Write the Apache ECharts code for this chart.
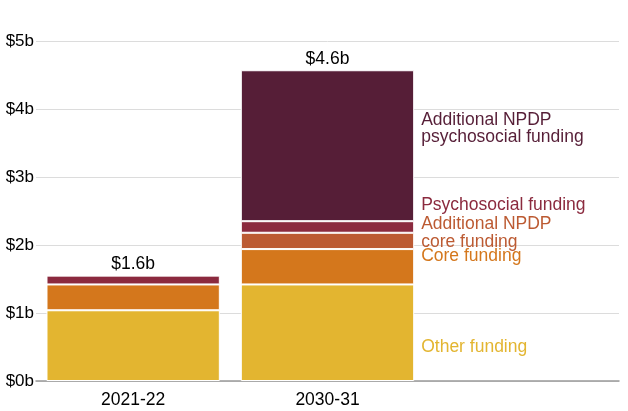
<!DOCTYPE html>
<html>
<head>
<meta charset="utf-8">
<script src="https://cdn.jsdelivr.net/npm/echarts@6/dist/echarts.min.js"></script>
<style>
	html, body { margin: 0; padding: 0; background: #fff; }
	#chart { width: 628px; height: 411px; }
</style>
</head>
<body>
<div id="chart"></div>
<script>
// data ($ billions)
var categories = ['2021-22', '2030-31', ''];
var otherFunding = [1.04, 1.42, null];
var coreFunding = [0.38, 0.52, null];
var addlCoreFunding = [0, 0.24, null];
var psychosocialFunding = [0.13, 0.17, null];
var addlPsychFunding = [0, 2.22, null];
var totalLabels = ['$1.6b', '$4.6b', ''];
var yTicks = ['$0b', '$1b', '$2b', '$3b', '$4b', '$5b'];

var font = "'Liberation Sans', Arial, Helvetica, sans-serif";

// one stacked segment, name label only beside the last bar
function segment(name, values, color, textColor, offsetY) {
	return {
		name: name,
		type: 'bar',
		stack: 'total',
		barCategoryGap: '10.8%',
		itemStyle: {
			color: color,
			borderColor: '#fff',
			borderWidth: 1
		},
		data: values.map(function(v, i) {
			if (i !== 1) return v;
			return {
				value: v,
				label: {
					show: true,
					position: 'right',
					distance: 7,
					offset: [0, offsetY],
					formatter: name,
					color: textColor,
					fontFamily: font,
					fontSize: 17.5,
					lineHeight: 17.7
				}
			};
		})
	};
}

var chart = echarts.init(document.getElementById('chart'));

chart.setOption({
	animation: false,
	grid: {
		left: 36,
		right: 9,
		top: 41,
		bottom: 30
	},
	xAxis: {
		type: 'category',
		data: categories,
		axisLine: {
			lineStyle: { color: '#999', width: 1.5 }
		},
		axisTick: {
			alignWithLabel: true,
			length: 5,
			lineStyle: { color: '#666' },
			interval: function(index, value) {
				return value !== '';
			}
		},
		axisLabel: {
			color: '#000',
			fontFamily: font,
			fontSize: 17.5,
			margin: 10
		}
	},
	yAxis: {
		type: 'value',
		min: 0,
		max: 5,
		interval: 1,
		axisLine: { show: false },
		axisTick: { show: false },
		splitLine: {
			lineStyle: { color: '#dcdcdc', width: 1 }
		},
		axisLabel: {
			color: '#000',
			fontFamily: font,
			fontSize: 17,
			margin: 2,
			formatter: function(v) {
				return yTicks[Math.round(v)];
			}
		}
	},
	series: [
		segment('Other funding', otherFunding, '#E3B530', '#E3B530', 14),
		segment('Core funding', coreFunding, '#D4771C', '#D4771C', -11),
		segment('Additional NPDP\ncore funding', addlCoreFunding, '#BC5A32', '#BC5A32', -8),
		segment('Psychosocial funding', psychosocialFunding, '#8B2A3E', '#8B2A3E', -22),
		segment('Additional NPDP\npsychosocial funding', addlPsychFunding, '#561E37', '#561E37', -17),
		{
			name: 'Total',
			type: 'bar',
			stack: 'total',
			itemStyle: { color: 'transparent' },
			label: {
				show: true,
				position: 'top',
				distance: 2,
				color: '#000',
				fontFamily: font,
				fontSize: 17.5,
				formatter: function(p) {
					return totalLabels[p.dataIndex];
				}
			},
			data: [0, 0, null]
		}
	]
});
</script>
</body>
</html>
